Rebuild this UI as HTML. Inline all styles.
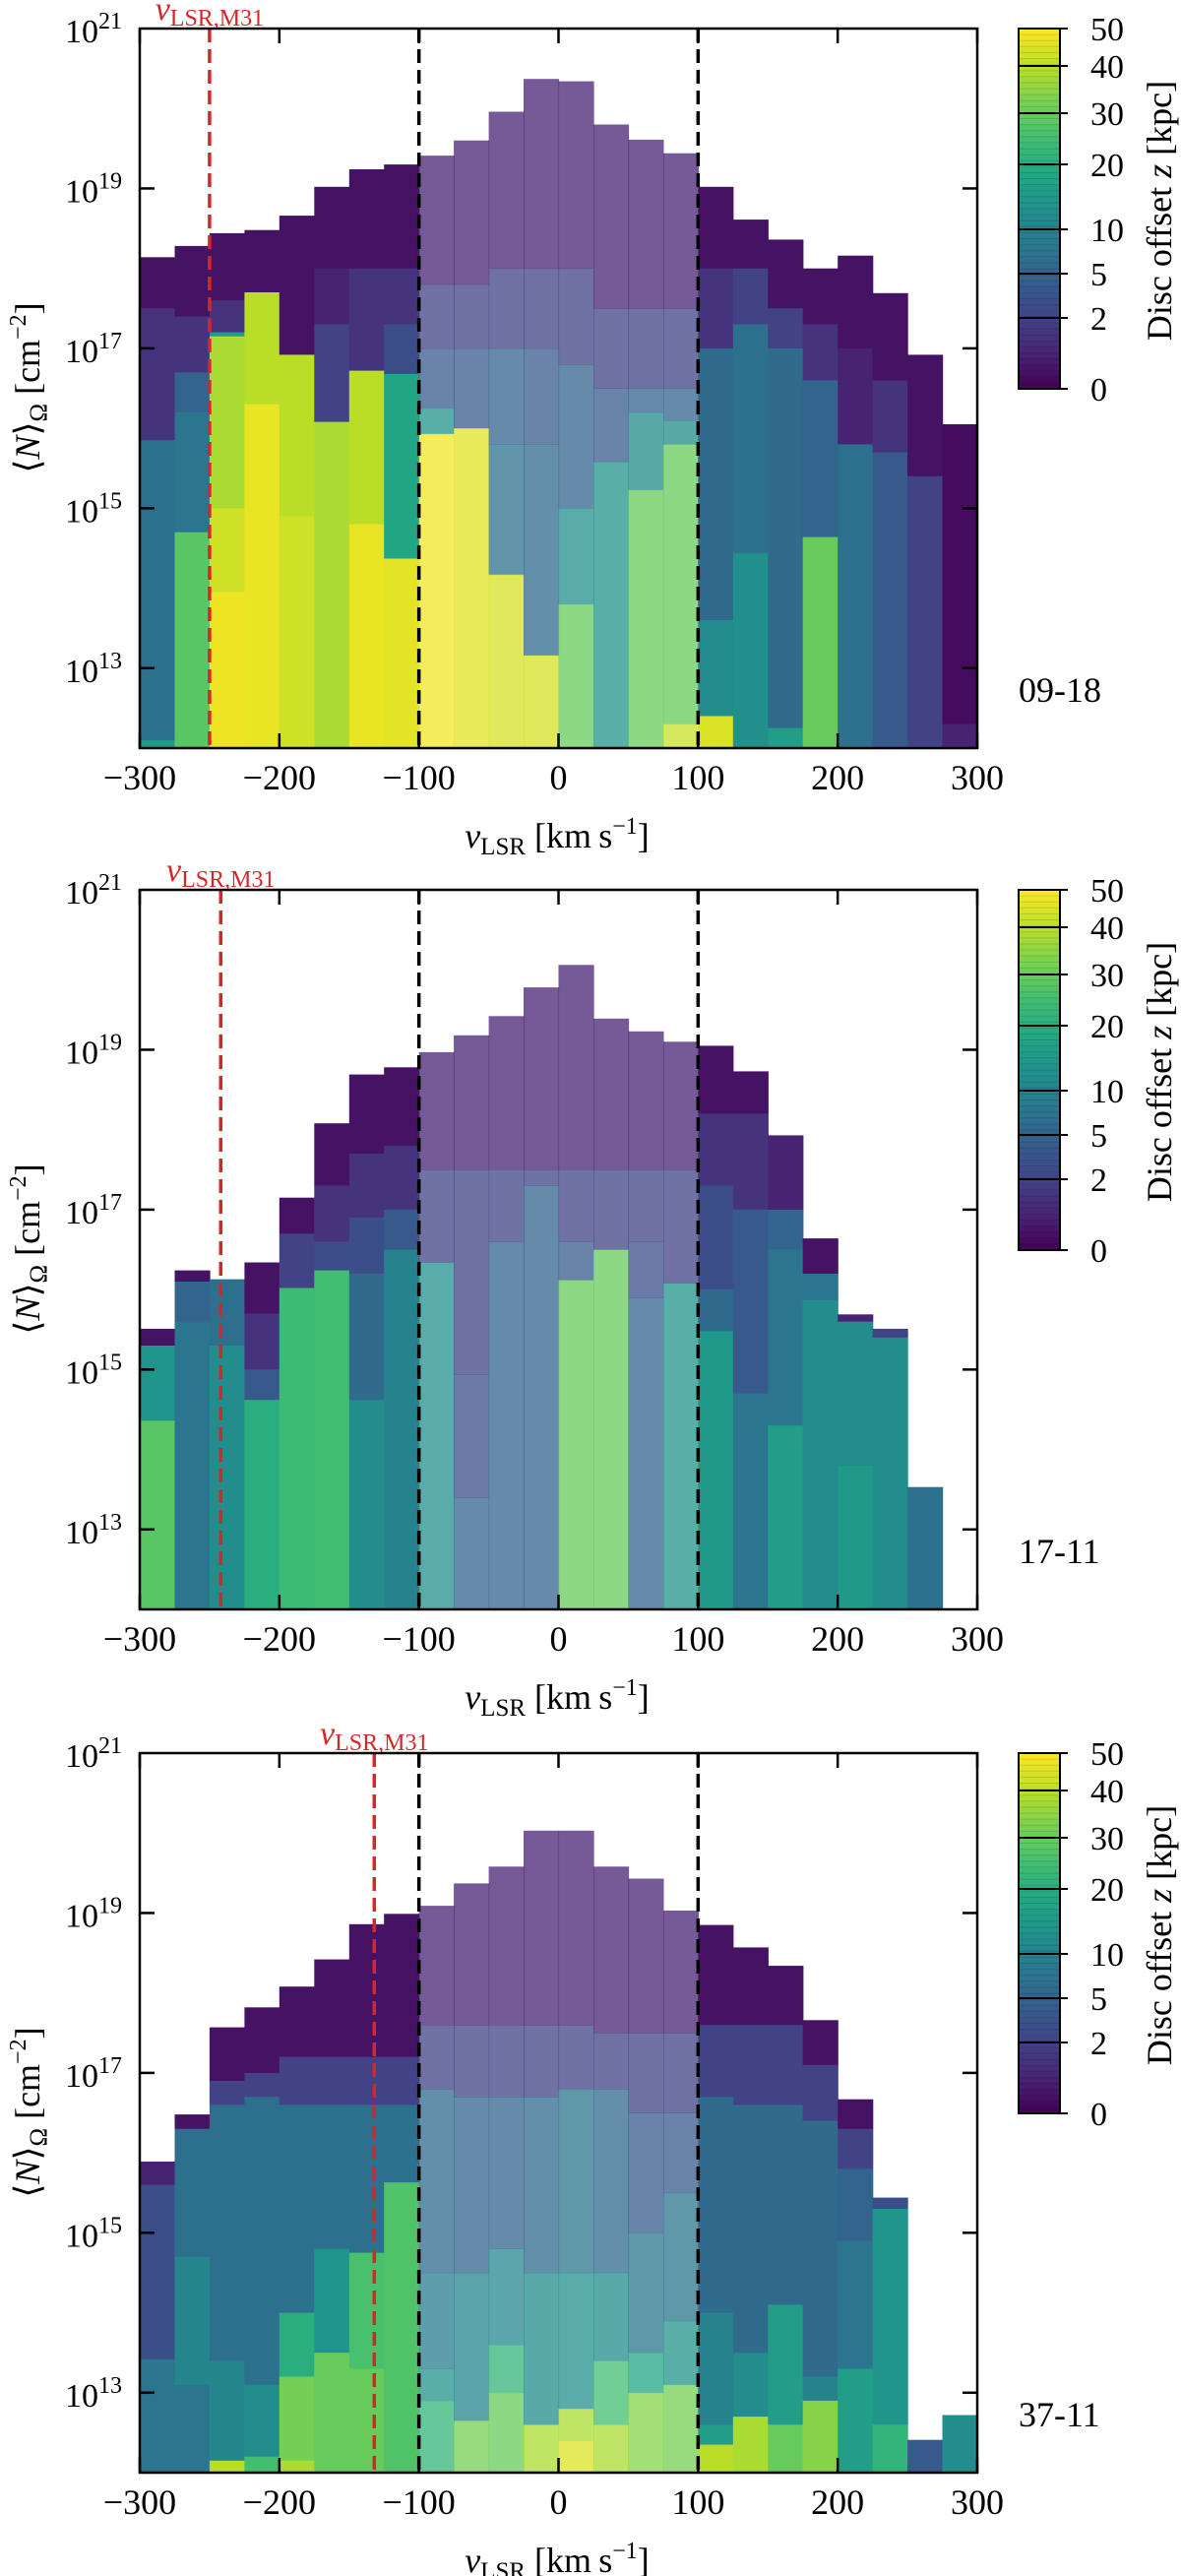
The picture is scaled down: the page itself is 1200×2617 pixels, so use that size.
<!DOCTYPE html>
<html><head><meta charset="utf-8">
<style>
html,body{margin:0;padding:0;background:#fff;}
svg{display:block;font-family:"Liberation Serif",serif;}
</style></head>
<body>
<svg id="fig" width="1200" height="2617" viewBox="0 0 1200 2617" xmlns="http://www.w3.org/2000/svg"></svg>
<script>
// ---- data ----
const binEdgesStart = -300;
const binWidth = 25;
const panelLabels = ["09-18", "17-11", "37-11"];
const m31Velocity = [-250, -242, -132];
const xTicks = [-300, -200, -100, 0, 100, 200, 300];
const yTickExps = [13, 15, 17, 19];
const cbTicks = [0, 2, 5, 10, 20, 30, 40, 50];
// each bin: list of [log10 upper edge of segment, z offset (kpc)], top-down
const panel1Bins = [
 [[18.14,0.5],[17.5,1.5],[15.85,7],[12.1,15]],
 [[18.28,0.5],[17.4,1.5],[16.7,5],[16.2,8],[14.7,28]],
 [[18.44,0.5],[17.6,1.5],[17.2,15],[17.15,38],[15.0,43],[13.95,48]],
 [[18.48,0.5],[17.7,40],[16.3,47]],
 [[18.66,0.5],[16.92,40],[14.9,43]],
 [[19.02,0.5],[18.0,1],[17.3,2],[16.08,38]],
 [[19.24,0.5],[18.0,1.5],[16.72,40],[14.8,47]],
 [[19.30,0.5],[18.0,1.5],[17.3,3],[16.68,18],[14.37,46]],
 [[19.41,1],[17.8,2],[17.0,4],[16.25,14],[15.93,48]],
 [[19.60,1],[17.8,2],[17.0,4],[16.0,46]],
 [[19.96,1],[18.0,2],[17.0,5],[15.8,7],[14.17,44]],
 [[20.37,1],[18.0,2],[17.0,4],[15.8,6],[13.16,44]],
 [[20.34,1],[18.0,2],[16.8,5],[15.0,13],[13.8,30]],
 [[19.80,1],[17.5,2],[16.5,4],[15.58,14]],
 [[19.61,1],[17.5,2],[16.5,5],[16.2,12],[15.23,30]],
 [[19.44,1],[17.5,2],[16.5,5],[16.1,12],[15.8,30],[12.3,42]],
 [[19.02,0.5],[18.0,1.5],[17.0,6],[13.6,12],[12.4,45]],
 [[18.61,0.5],[18.0,2],[17.3,7],[14.44,13]],
 [[18.36,0.5],[17.5,2],[17.0,6],[12.25,16]],
 [[18.0,0.5],[17.3,1.5],[16.6,5],[14.64,30]],
 [[18.16,0.5],[17.0,1],[15.8,7]],
 [[17.69,0.5],[16.6,1.5],[15.7,4]],
 [[16.92,0.5],[15.4,2]],
 [[16.05,0.3],[12.3,1]]
];
const panel2Bins = [
 [[15.51,0.5],[15.3,14],[14.36,28]],
 [[16.24,0.5],[16.1,5],[15.6,8]],
 [[16.13,7],[15.3,12]],
 [[16.34,0.5],[15.7,1.5],[15.0,4],[14.62,20]],
 [[17.15,0.5],[16.7,2],[16.02,24]],
 [[18.08,0.5],[17.3,1.5],[16.6,3],[16.24,25]],
 [[18.69,0.5],[17.7,1.5],[16.9,3],[16.2,6],[14.62,12]],
 [[18.78,0.5],[17.8,1.5],[17.0,4],[16.5,10]],
 [[18.97,1],[17.5,2],[16.34,13]],
 [[19.18,1],[17.5,2],[14.94,3],[13.4,5]],
 [[19.42,1],[17.5,2],[16.6,5]],
 [[19.78,1],[17.5,2],[17.3,5]],
 [[20.06,1],[17.5,2],[16.6,4],[16.12,30]],
 [[19.39,1],[17.5,2],[16.5,30]],
 [[19.23,1],[17.5,2],[16.6,3],[15.9,5]],
 [[19.10,1],[17.5,2],[16.08,14]],
 [[19.05,0.5],[18.2,1.5],[17.3,3],[16.0,6],[15.48,15]],
 [[18.73,0.5],[18.2,1.5],[17.0,4],[14.7,8]],
 [[17.93,1],[17.0,5],[16.5,8],[14.3,16]],
 [[16.64,0.5],[16.2,8],[15.87,12]],
 [[15.69,1],[15.6,12],[13.8,15]],
 [[15.51,2],[15.4,12]],
 [[13.53,7]],
 []
];
const panel3Bins = [
 [[15.89,1],[15.6,3],[13.42,8]],
 [[16.48,0.5],[16.3,7],[14.7,11],[13.1,8]],
 [[17.57,0.5],[16.9,2],[16.6,7],[13.4,11],[12.15,40]],
 [[17.82,0.5],[17.0,2],[16.7,7],[13.1,12],[12.2,25]],
 [[18.08,0.5],[17.2,2],[16.6,7],[14.0,20],[13.2,32],[12.15,38]],
 [[18.42,0.5],[17.2,2],[16.6,7],[14.8,14],[13.5,30]],
 [[18.86,0.5],[17.2,2],[16.6,7],[14.75,26],[13.3,30]],
 [[18.99,0.5],[17.2,2],[16.6,7],[15.63,27]],
 [[19.09,1],[17.6,2],[16.8,6],[14.5,9],[13.3,14],[12.9,22]],
 [[19.37,1],[17.6,2],[16.7,5],[14.5,10],[12.65,32]],
 [[19.58,1],[17.6,2],[16.7,5],[14.8,11],[13.6,22],[13.0,30]],
 [[20.03,1],[17.6,2],[16.7,6],[14.5,12],[12.6,38]],
 [[20.03,1],[17.6,2],[16.8,8],[14.5,13],[12.8,38],[12.4,45]],
 [[19.58,1],[17.5,2],[16.8,6],[14.5,12],[13.4,25],[12.6,38]],
 [[19.43,1],[17.5,2],[16.5,4],[15.0,8],[13.5,18],[13.0,34]],
 [[19.03,1],[17.5,2],[16.5,4],[15.5,8],[13.9,14],[13.1,32]],
 [[18.85,0.5],[17.6,2],[16.7,6],[14.0,10],[12.6,16],[12.35,40]],
 [[18.57,0.5],[17.6,2],[16.6,6],[13.5,12],[12.7,38]],
 [[18.34,0.5],[17.6,2],[16.6,6],[14.1,16],[12.6,30]],
 [[17.66,0.5],[17.1,2],[16.4,6],[13.2,10],[12.9,34]],
 [[16.67,0.5],[16.3,2],[15.8,5],[14.9,8],[13.3,16]],
 [[15.44,3],[15.3,14],[12.6,22]],
 [[12.41,4]],
 [[12.72,12]]
];
const panelsData = [panel1Bins, panel2Bins, panel3Bins];

// ---- layout ----
const NS = "http://www.w3.org/2000/svg";
const svg = document.getElementById('fig');
const PL = 142, PR = 993, PH = 731;
const panelTops = [29, 904, 1781];
const yMinExp = 12, yMaxExp = 21;
const CBX = 1035, CBW = 42, CBH = 366;
const cbPos = [366, 294, 249, 204, 138, 86, 38, 0];

function el(tag, attrs, parent) {
  const e = document.createElementNS(NS, tag);
  for (const k in attrs) e.setAttribute(k, attrs[k]);
  (parent || svg).appendChild(e);
  return e;
}
const xScale = v => PL + (v + 300) / 600 * (PR - PL);
const yScale = (lg, top) => top + (yMaxExp - lg) / (yMaxExp - yMinExp) * PH;

const vir = [[68,1,84],[72,36,117],[65,68,135],[53,95,141],[42,120,142],[33,145,140],[34,168,132],[68,191,112],[122,209,81],[189,223,38],[253,231,37]];
function viridis(t) {
  t = Math.max(0, Math.min(1, t));
  const s = t * 10, i = Math.min(9, Math.floor(s)), f = s - i;
  const a = vir[i], b = vir[i + 1];
  return `rgb(${a.map((c, k) => Math.round(c + (b[k] - c) * f)).join(',')})`;
}
function zToT(z) {
  for (let i = 0; i < cbTicks.length - 1; i++) {
    if (z <= cbTicks[i + 1]) {
      const f = (z - cbTicks[i]) / (cbTicks[i + 1] - cbTicks[i]);
      const p = cbPos[i] + (cbPos[i + 1] - cbPos[i]) * f;
      return 1 - p / CBH;
    }
  }
  return 1;
}

panelsData.forEach((bins, pi) => {
  const top = panelTops[pi], bot = top + PH;
  const g = el('g', {});
  
  

  // bars
  const bars = el('g', {}, g);
  
  
  bins.forEach((segs, bi) => {
    const v0 = binEdgesStart + bi * binWidth;
    const x0 = xScale(v0), x1 = xScale(v0 + binWidth);
    const central = v0 >= -100 && v0 < 100;
    segs.forEach((s, si) => {
      const lo = si + 1 < segs.length ? segs[si + 1][0] : yMinExp;
      const y0 = yScale(s[0], top), y1 = yScale(lo, top);
      const r = el('rect', {x: x0.toFixed(1), y: y0.toFixed(1), width: (x1 - x0 + 0.6).toFixed(1), height: Math.max(0, y1 - y0 + 0.4).toFixed(1), fill: viridis(zToT(s[1])), 'fill-opacity': central ? 0.75 : 1}, bars);
      
      
    });
  });

  // dashed lines
  [-100, 100].forEach(v => {
    const l = el('line', {x1: xScale(v), x2: xScale(v), y1: top, y2: bot, stroke: '#000', 'stroke-width': 3.5, 'stroke-dasharray': '14 7'}, g);
    
    
  });
  const rl = el('line', {x1: xScale(m31Velocity[pi]), x2: xScale(m31Velocity[pi]), y1: top, y2: bot, stroke: '#d62728', 'stroke-width': 3.5, 'stroke-dasharray': '14 7'}, g);
  
  
  const rt = el('text', {x: xScale(m31Velocity[pi]), y: top - 9, fill: '#d62728', 'font-size': 34, 'text-anchor': 'middle'}, g);
  rt.innerHTML = '<tspan font-style="italic">v</tspan><tspan font-size="24" dy="6">LSR,M31</tspan>';
  
  

  // frame
  const fr = el('rect', {x: PL, y: top, width: PR - PL, height: PH, fill: 'none', stroke: '#000', 'stroke-width': 2.5}, g);
  
  

  // x ticks
  xTicks.forEach(v => {
    const x = xScale(v);
    el('line', {x1: x, x2: x, y1: bot, y2: bot - 15, stroke: '#000', 'stroke-width': 2.5}, g);
    el('line', {x1: x, x2: x, y1: top, y2: top + 15, stroke: '#000', 'stroke-width': 2.5}, g);
    const t = el('text', {x: x, y: bot + 42, 'font-size': 36, 'text-anchor': 'middle'}, g);
    t.textContent = v < 0 ? '\u2212' + (-v) : String(v);
    
    
  });
  // y ticks
  const allExp = [21].concat(yTickExps);
  allExp.forEach(e => {
    const y = yScale(e, top);
    if (e !== 21) {
      el('line', {x1: PL, x2: PL + 15, y1: y, y2: y, stroke: '#000', 'stroke-width': 2.5}, g);
      el('line', {x1: PR, x2: PR - 15, y1: y, y2: y, stroke: '#000', 'stroke-width': 2.5}, g);
    }
    const t = el('text', {x: 66, y: y + 14, 'font-size': 34}, g);
    t.innerHTML = '10<tspan font-size="24" dy="-14">' + e + '</tspan>';
    
    
  });

  // axis titles
  const xt = el('text', {x: 566, y: bot + 101, 'font-size': 36, 'text-anchor': 'middle'}, g);
  xt.innerHTML = '<tspan font-style="italic">v</tspan><tspan font-size="25" dy="7">LSR</tspan><tspan dy="-7"> [km\u2009s</tspan><tspan font-size="24" dy="-14">\u22121</tspan><tspan dy="14">]</tspan>';
  
  
  const yt = el('text', {transform: `translate(40,${top + 365}) rotate(-90)`, 'font-size': 36, 'text-anchor': 'middle'}, g);
  yt.innerHTML = '\u27E8<tspan font-style="italic">N</tspan>\u27E9<tspan font-size="25" dy="7">\u03A9</tspan><tspan dy="-7"> [cm</tspan><tspan font-size="24" dy="-14">\u22122</tspan><tspan dy="14">]</tspan>';
  
  

  const pl = el('text', {x: 1035, y: top + 684, 'font-size': 36}, g);
  pl.textContent = panelLabels[pi];
  
  

  // colorbar
  const cb = el('g', {}, g);
  
  
  const N = 60;
  for (let i = 0; i < N; i++) {
    const y0 = top + CBH * i / N;
    el('rect', {x: CBX, y: y0.toFixed(1), width: CBW, height: (CBH / N + 0.5).toFixed(1), fill: viridis(1 - (i + 0.5) / N)}, cb);
    el('line', {x1: CBX, x2: CBX + CBW, y1: y0, y2: y0, stroke: 'rgba(0,0,0,0.12)', 'stroke-width': 1}, cb);
  }
  el('rect', {x: CBX, y: top, width: CBW, height: CBH, fill: 'none', stroke: '#000', 'stroke-width': 2}, cb);
  cbTicks.forEach((z, i) => {
    const y = top + cbPos[i];
    el('line', {x1: CBX, x2: CBX + CBW + 8, y1: y, y2: y, stroke: '#000', 'stroke-width': 2}, cb);
    const t = el('text', {x: 1108, y: y + 12, 'font-size': 34}, cb);
    t.textContent = String(z);
    
    
  });
  const ct = el('text', {transform: `translate(1190,${top + 185}) rotate(-90)`, 'font-size': 36, 'text-anchor': 'middle'}, cb);
  ct.innerHTML = 'Disc offset <tspan font-style="italic">z</tspan> [kpc]';
  
  
});
</script>
</body></html>
